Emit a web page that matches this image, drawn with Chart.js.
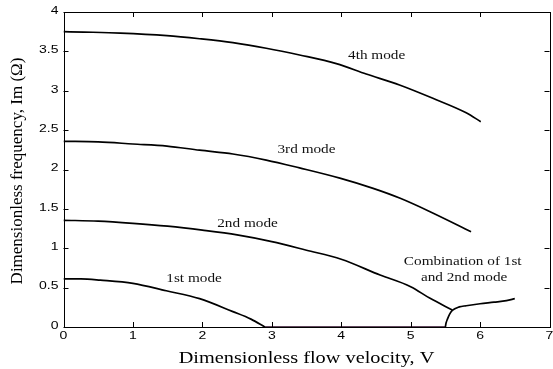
<!DOCTYPE html>
<html><head><meta charset="utf-8">
<script src="https://cdn.jsdelivr.net/npm/chart.js@4/dist/chart.umd.min.js"></script>
<style>html,body{margin:0;padding:0;background:#fff}#wrap{width:553px;height:369px}</style>
</head><body><div id="wrap"><canvas id="c" width="553" height="369"></canvas></div>
<script>
// Data
const mode1V = [0, 0.25, 0.53, 1.0, 1.48, 1.96, 2.44, 2.7, 2.9];
const mode1F = [0.61, 0.61, 0.595, 0.555, 0.46, 0.36, 0.195, 0.1, 0];
const mode2V = [0, 0.5, 1.0, 1.5, 2.0, 2.5, 3.0, 3.5, 4.0, 4.56, 5.0, 5.28, 5.6];
const mode2F = [1.355, 1.345, 1.317, 1.28, 1.23, 1.17, 1.085, 0.975, 0.86, 0.66, 0.512, 0.364, 0.216];
const mode3V = [0, 0.5, 1.0, 1.49, 1.96, 2.44, 2.92, 3.4, 3.98, 4.46, 4.85, 5.28, 5.87];
const mode3F = [2.358, 2.35, 2.324, 2.298, 2.245, 2.197, 2.12, 2.02, 1.89, 1.76, 1.634, 1.464, 1.21];
const mode4V = [0, 0.29, 0.82, 1.49, 1.96, 2.44, 2.92, 3.4, 3.93, 4.36, 4.84, 5.32, 5.8, 6.01];
const mode4F = [3.75, 3.745, 3.733, 3.70, 3.66, 3.61, 3.54, 3.454, 3.345, 3.213, 3.073, 2.904, 2.72, 2.607];
const combV = [5.5, 5.51, 5.53, 5.56, 5.6, 5.7, 5.8, 6.0, 6.2, 6.38, 6.5];
const combF = [0, 0.05, 0.1, 0.16, 0.21, 0.255, 0.27, 0.295, 0.315, 0.335, 0.36];
const zeroV = [2.9, 5.5];
const zeroF = [0, 0];
const xTicks = [0, 1, 2, 3, 4, 5, 6, 7];
const yTicks = [0, 0.5, 1, 1.5, 2, 2.5, 3, 3.5, 4];
const xTitle = 'Dimensionless flow velocity, V';
const yTitle = 'Dimensionless frequency, Im (\u03A9)';
const labelTexts = ["4th mode", "3rd mode", "2nd mode", "1st mode", "Combination of 1st", "and 2nd mode"];
const labelV = [4.51, 3.5, 2.65, 1.88, 5.75, 5.77];
const labelF = [3.44, 2.25, 1.31, 0.61, 0.825, 0.63];

const pts = (xs, ys) => xs.map((x, i) => ({x: x, y: ys[i]}));
const ds = (xs, ys, color) => ({data: pts(xs, ys), borderColor: color, borderWidth: 1.7, pointRadius: 0, cubicInterpolationMode: 'monotone', fill: false});

function stretchText(ctx, t, x, y, sx) {
  ctx.save(); ctx.translate(x, y); ctx.scale(sx, 1); ctx.fillText(t, 0, 0); ctx.restore();
}

const frame = {
  id: 'frame',
  afterDraw(chart) {
    const ctx = chart.ctx, a = chart.chartArea, xs = chart.scales.x, ys = chart.scales.y;
    ctx.save();
    ctx.strokeStyle = '#000'; ctx.lineWidth = 1;
    ctx.strokeRect(Math.round(a.left) + 0.5, Math.round(a.top) + 0.5, Math.round(a.right - a.left), Math.round(a.bottom - a.top));
    ctx.beginPath();
    xTicks.forEach(v => { const p = Math.round(xs.getPixelForValue(v)) + 0.5;
      ctx.moveTo(p, a.bottom); ctx.lineTo(p, a.bottom - 5); ctx.moveTo(p, a.top); ctx.lineTo(p, a.top + 5); });
    yTicks.forEach(v => { const p = Math.round(ys.getPixelForValue(v)) + 0.5;
      ctx.moveTo(a.left, p); ctx.lineTo(a.left + 5, p); ctx.moveTo(a.right, p); ctx.lineTo(a.right - 5, p); });
    ctx.stroke();
    ctx.fillStyle = '#000';
    // tick labels
    ctx.font = '10px "Liberation Sans", Arial, sans-serif';
    ctx.textBaseline = 'middle';
    ctx.textAlign = 'center';
    xTicks.forEach(v => stretchText(ctx, String(v), xs.getPixelForValue(v), a.bottom + 9, 1.4));
    ctx.textAlign = 'right';
    yTicks.forEach(v => stretchText(ctx, String(v), a.left - 5, ys.getPixelForValue(v) - 1, 1.4));
    // axis titles
    ctx.font = '16.5px "Liberation Serif", "Times New Roman", serif';
    ctx.textAlign = 'center'; ctx.textBaseline = 'alphabetic';
    stretchText(ctx, xTitle, (a.left + a.right) / 2, 363, 1.23);
    ctx.save();
    ctx.translate(22, 171); ctx.rotate(-Math.PI / 2);
    ctx.font = '17px "Liberation Serif", "Times New Roman", serif';
    ctx.fillText(yTitle, 0, 0);
    ctx.restore();
    // curve labels
    ctx.fillStyle = '#111'; ctx.font = '12.5px "Liberation Serif", "Times New Roman", serif';
    ctx.textAlign = 'center'; ctx.textBaseline = 'middle';
    labelTexts.forEach((t, i) => stretchText(ctx, t, xs.getPixelForValue(labelV[i]), ys.getPixelForValue(labelF[i]), 1.22));
    ctx.restore();
  }
};

new Chart(document.getElementById('c'), {
  type: 'line',
  data: { datasets: [
    ds(mode1V, mode1F, '#000'), ds(mode2V, mode2F, '#000'), ds(mode3V, mode3F, '#000'),
    ds(mode4V, mode4F, '#000'), ds(combV, combF, '#000'), ds(zeroV, zeroF, '#2c0a26')
  ]},
  options: {
    responsive: false, animation: false, devicePixelRatio: 1,
    layout: { padding: { top: 12, right: 3.5, left: 0, bottom: 0 } },
    plugins: { legend: { display: false }, tooltip: { enabled: false } },
    scales: {
      x: { type: 'linear', min: 0, max: 7,
        afterBuildTicks: s => { s.ticks = xTicks.map(v => ({value: v})); },
        afterFit: s => { s.height = 42; },
        grid: { display: false },
        border: { display: false },
        ticks: { display: false }
      },
      y: { type: 'linear', min: 0, max: 4,
        afterBuildTicks: s => { s.ticks = yTicks.map(v => ({value: v})); },
        afterFit: s => { s.width = 63.5; },
        grid: { display: false },
        border: { display: false },
        ticks: { display: false }
      }
    }
  },
  plugins: [frame]
});
</script></body></html>
